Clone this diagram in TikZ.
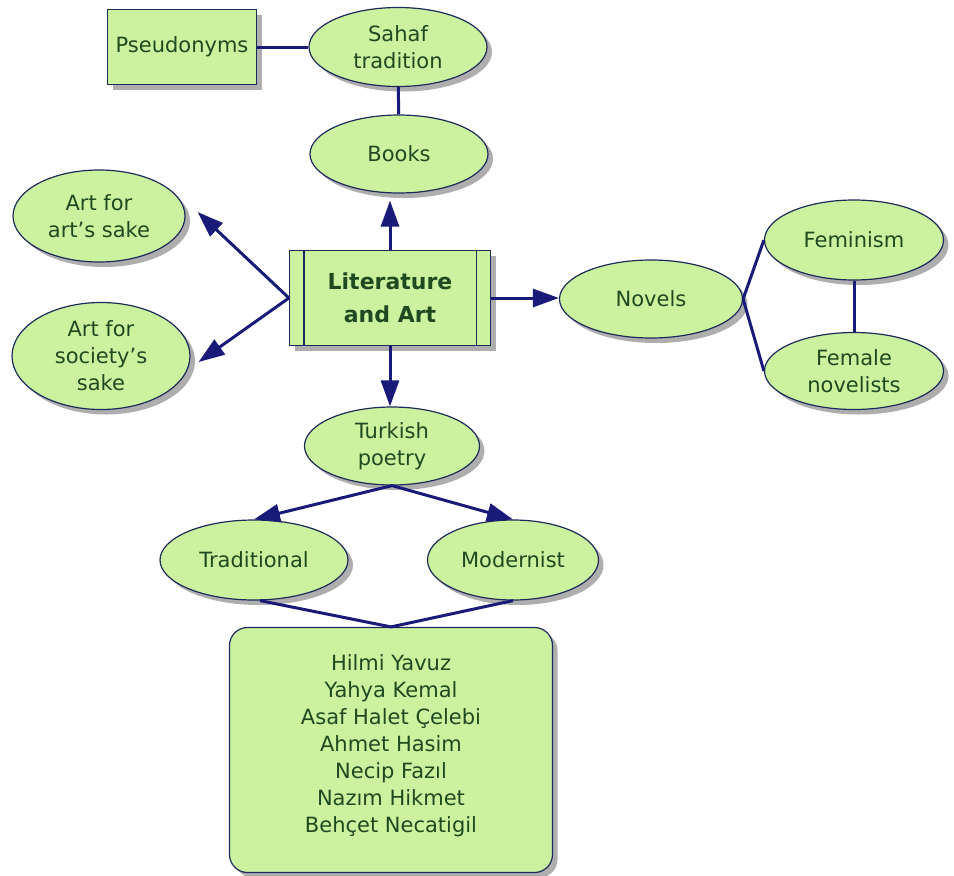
\documentclass[tikz,border=0pt]{standalone}
\usepackage{fontspec}
\setmainfont{DejaVu Sans}
\usetikzlibrary{arrows.meta,shapes.geometric,shadows}
\definecolor{leaf}{HTML}{CCF2A0}
\definecolor{ink}{HTML}{1F4A1F}
\definecolor{navy}{HTML}{1A1A78}
\definecolor{rim}{HTML}{1E2A5A}
\tikzset{
  shade/.style={drop shadow={shadow xshift=5pt,shadow yshift=-5pt,fill=black!45,opacity=.7}},
  topic/.style={ellipse,draw=rim,line width=1.2pt,fill=leaf,text=ink,align=center,
    inner sep=0pt,shade,font=\fontsize{21}{27}\selectfont},
  box/.style={rectangle,draw=rim,line width=1.2pt,fill=leaf,text=ink,align=center,
    inner sep=0pt,shade,font=\fontsize{21}{27}\selectfont},
  link/.style={draw=navy,line width=3pt},
  arrow/.style={link,-{Triangle[length=26pt,width=18pt]}}
}
\begin{document}
\begin{tikzpicture}[x=1pt,y=-1pt]
  \useasboundingbox (0,0) rectangle (954,876);

  \node [box,minimum width=149pt,minimum height=75pt] (pseud) at (182,47) {Pseudonyms};
  \node [topic,minimum width=178pt,minimum height=79pt] (sahaf) at (398,47) {Sahaf\\tradition};
  \node [topic,minimum width=178pt,minimum height=78pt] (books) at (399,154) {Books};
  \node [topic,minimum width=172pt,minimum height=92pt] (artsake) at (99,216) {Art for\\art's sake};
  \node [topic,minimum width=178pt,minimum height=107pt] (socsake) at (101,356) {Art for\\society's\\sake};
  \node [box,minimum width=201pt,minimum height=95pt,
         font=\fontsize{22}{33}\selectfont\bfseries] (lit) at (390,298) {Literature\\and Art};
  \node [topic,minimum width=183pt,minimum height=78pt] (novels) at (651,299) {Novels};
  \node [topic,minimum width=179pt,minimum height=80pt] (femin) at (854,240) {Feminism};
  \node [topic,minimum width=179pt,minimum height=77pt] (femnov) at (854,371) {Female\\novelists};
  \node [topic,minimum width=175pt,minimum height=78pt] (turk) at (392,446) {Turkish\\poetry};
  \node [topic,minimum width=188pt,minimum height=80pt] (trad) at (254,560) {Traditional};
  \node [topic,minimum width=171pt,minimum height=80pt] (modern) at (513,560) {Modernist};
  \node [box,rounded corners=18pt,minimum width=323pt,minimum height=245pt] (poets) at (391,750)
    {Hilmi Yavuz\\Yahya Kemal\\Asaf Halet Çelebi\\Ahmet Hasim\\Necip Fazıl\\Nazım Hikmet\\Behçet Necatigil\\[-14pt]};

  % inner border lines of the main box
  \draw [rim,line width=1.2pt] ([xshift=15pt]lit.north west) -- ([xshift=15pt]lit.south west);
  \draw [rim,line width=1.2pt] ([xshift=-15pt]lit.north east) -- ([xshift=-15pt]lit.south east);

  \draw [link] (pseud) -- (sahaf);
  \draw [link] (sahaf) -- (books);
  \draw [arrow] (lit.north) -- ([yshift=-7pt]lit.north |- books.south);
  \draw [arrow] (lit.west) -- ([xshift=12pt,yshift=4pt]artsake.east);
  \draw [arrow] (lit.west) -- ([xshift=8pt,yshift=-6pt]socsake.east);
  \draw [arrow] (lit.east) -- (lit.east -| novels.west);
  \draw [arrow] (lit.south) -- (lit.south |- turk.north);
  \draw [arrow] (turk.south) -- (trad.north);
  \draw [arrow] (turk.south) -- (modern.north);
  \draw [link] (novels.east) -- (femin.west);
  \draw [link] (novels.east) -- (femnov.west);
  \draw [link] (femin) -- (femnov);
  \draw [link] ([xshift=6pt]trad.south) -- (poets.north);
  \draw [link] (modern.south) -- (poets.north);
\end{tikzpicture}
\end{document}
